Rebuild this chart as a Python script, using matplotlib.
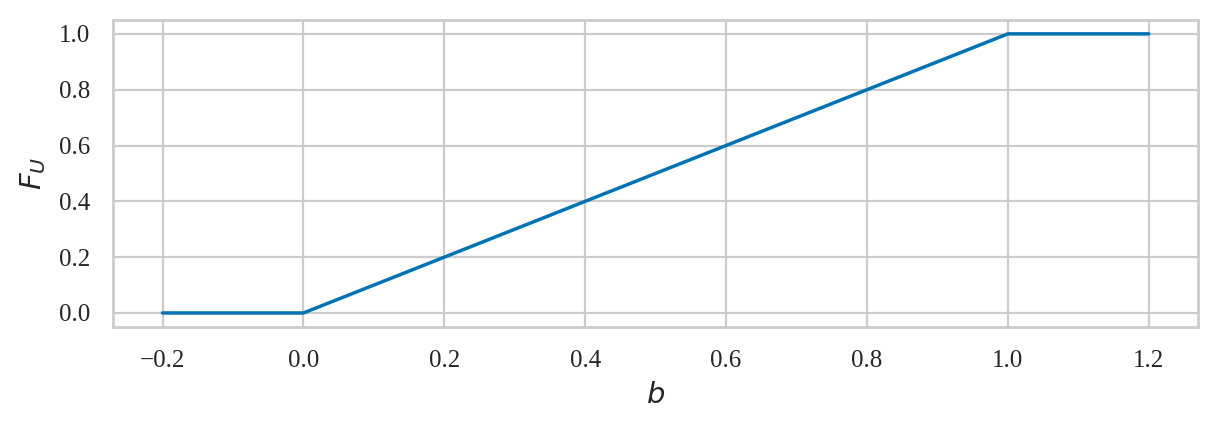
import matplotlib
matplotlib.use("Agg")
import matplotlib.pyplot as plt
import seaborn as sns

b_values = [-0.2, 0.0, 1.0, 1.2]
F_values = [0.0, 0.0, 1.0, 1.0]
xticks = [-0.2, 0.0, 0.2, 0.4, 0.6, 0.8, 1.0, 1.2]
yticks = [0.0, 0.2, 0.4, 0.6, 0.8, 1.0]

sns.set_theme(style="whitegrid", context="paper")
plt.rcParams['font.family'] = ['Liberation Serif', 'DejaVu Serif']
plt.rcParams['mathtext.fontset'] = 'dejavusans'

fig = plt.figure(figsize=(6.09, 2.165), dpi=200)
ax = fig.add_axes([0.093, 0.245, 0.8906, 0.709])
ax.plot(b_values, F_values, color="#0173b2", linewidth=1.25)
ax.set_xticks(xticks)
ax.set_yticks(yticks)
ax.set_xticklabels([f"{t:.1f}".replace("-", "\u2212") for t in xticks], fontsize=9)
ax.set_yticklabels([f"{t:.1f}" for t in yticks], fontsize=9)
ax.set_xlabel("$b$", fontsize=10.5)
ax.set_ylabel("$F_U$", fontsize=10.5)
fig.savefig("out.png", dpi=200)
